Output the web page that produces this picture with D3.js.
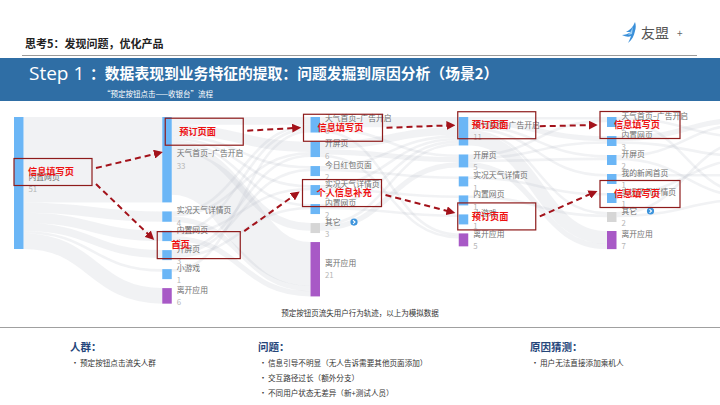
<!DOCTYPE html>
<html>
<head>
<meta charset="utf-8">
<script src="https://cdn.jsdelivr.net/npm/d3@7"></script>
<style>
  body { margin: 0; background: #fff; }
  svg { font-family: "Noto Sans CJK SC", "Noto Sans", sans-serif; }
</style>
</head>
<body>
<svg id="chart" width="720" height="405"></svg>
<script>
// ---- data (mock data) ----
const col1Pages = ["内置网页"];
const col1Users = [51];
const col2Pages = ["天气首页–广告开启", "实况天气详情页", "内置网页", "开屏页", "小游戏", "离开应用"];
const col2Users = [33, 4, 4, 3, 1, 6];
const col3Pages = ["天气首页–广告开启", "开屏页", "今日红包页面", "实况天气详情页", "内置网页", "其它", "离开应用"];
const col3Users = [6, 6, 2, 2, 2, 3, 21];
const col4Pages = ["天气首页–广告开启", "开屏页", "实况天气详情页", "内置网页", "小游戏", "离开应用"];
const col4Users = [11, 5, 1, 1, 1, 5];
const col5Pages = ["天气首页–广告开启", "内置网页", "开屏页", "我的新闻首页", "实况天气详情页", "其它", "离开应用"];
const col5Users = [2, 3, 2, 1, 1, 2, 7];
// next step, cut off at the right edge of the slide
const col6Pages = ["天气首页–广告开启", "内置网页", "开屏页", "小游戏", "离开应用"];
const col6Users = [3, 2, 2, 1, 3];

// flows between steps: [source node, target node, users]
const flows12 = [[0,0,33],[0,1,4],[0,2,4],[0,3,3],[0,4,1],[0,5,6]];
const flows23 = [[0,0,3],[0,1,4],[0,2,1],[0,3,1],[0,4,1],[0,5,3],[0,6,17],
                 [1,0,1],[1,1,1],[1,6,2],
                 [2,0,1],[2,3,1],[2,6,2],
                 [3,1,1],[3,2,1],[3,4,1],
                 [4,0,1]];
const flows34 = [[0,0,4],[0,1,1],[0,5,1],
                 [1,0,3],[1,1,2],[1,5,1],
                 [2,0,1],[2,2,1],
                 [3,0,1],[3,3,1],
                 [4,0,1],[4,4,1],
                 [5,0,1],[5,1,2]];
const flows45 = [[0,0,1],[0,1,2],[0,2,1],[0,3,1],[0,5,1],[0,6,5],
                 [1,0,1],[1,1,1],[1,2,1],[1,6,2],
                 [2,4,1],
                 [3,5,1]];
const flows56 = [[0,1,1],[0,4,1],[1,0,2],[1,2,1],[2,0,1],[2,4,1],
                 [3,3,1],[4,2,1],[5,1,1],[5,4,1]];

// red call-outs: [step, node, text]
const notes = [
  [0, 0, "信息填写页"],
  [1, 0, "预订页面"],
  [1, 3, "首页"],
  [2, 0, "信息填写页"],
  [2, 3, "个人信息补充"],
  [3, 0, "预订页面"],
  [3, 4, "预订页面"],
  [4, 0, "信息填写页"],
  [4, 4, "信息填写页"]
];
const noteArrows = [[0,1],[0,2],[1,3],[2,4],[3,5],[4,6],[5,7],[6,8]];

const caption = "预定按钮页流失用户行为轨迹，以上为模拟数据";
const bottomHeads = ["人群：", "问题：", "原因猜测："];
const bottomItems = [
  ["预定按钮点击流失人群"],
  ["信息引导不明显（无人告诉需要其他页面添加）", "交互路径过长（额外分支）", "不同用户状态无差异（新+测试人员）"],
  ["用户无法直接添加乘机人"]
];

// ---- layout ----
const svg = d3.select("#chart");
const blue = "#2f6ea5";

// header
svg.append("text").attr("x", 25).attr("y", 48)
  .attr("font-size", 11).attr("font-weight", 700).attr("fill", "#222")
  .text("思考5：发现问题，优化产品");
svg.append("line").attr("x1", 22).attr("x2", 697).attr("y1", 55.5).attr("y2", 55.5)
  .attr("stroke", "#9a9a9a").attr("stroke-width", 1);

// logo
const logo = svg.append("g").attr("transform", "translate(622,22)");
logo.append("path")
  .attr("d", "M13,0 C11,5 8,8 4,10 L9,10 C6,12 3,13 0,13 C4,15 7,15 9,14 C8,17 7,19 6,21 C10,18 12,14 13,9 C14,6 14,3 13,0 Z")
  .attr("fill", "#3a8fd9");
logo.append("path")
  .attr("d", "M11,4 C10,8 8,11 6,13 L10,12 Z")
  .attr("fill", "#9fd0f5");
logo.append("text").attr("x", 19).attr("y", 16)
  .attr("font-size", 14).attr("fill", "#555").text("友盟");
logo.append("text").attr("x", 55).attr("y", 15)
  .attr("font-size", 10).attr("fill", "#666").text("+");

// blue band
svg.append("rect").attr("x", 0).attr("y", 58).attr("width", 720).attr("height", 43).attr("fill", blue);
svg.append("text").attr("x", 29).attr("y", 80)
  .attr("font-family", "'Open Sans', sans-serif").attr("font-size", 19).attr("fill", "#fff")
  .text("Step 1");
svg.append("text").attr("x", 90).attr("y", 79)
  .attr("font-size", 14.8).attr("font-weight", 700).attr("fill", "#fff")
  .text("：数据表现到业务特征的提取：问题发掘到原因分析（场景2）");
svg.append("text").attr("x", 103).attr("y", 97)
  .attr("font-size", 7.5).attr("fill", "#fff")
  .text("“预定按钮点击——收银台”流程");

// ---- sankey-like behaviour flow ----
const columns = [
  [col1Pages, col1Users], [col2Pages, col2Users], [col3Pages, col3Users],
  [col4Pages, col4Users], [col5Pages, col5Users], [col6Pages, col6Users]
];
const flowSets = [flows12, flows23, flows34, flows45, flows56];

const x = d3.scaleLinear().domain([0, 4]).range([14, 607]);
const h = d3.scaleLinear().domain([0, 51]).range([0, 132]);
const barW = 9.5, minH = 10, pad = 9, topY = 117;

const nodes = columns.map(([pages, users], c) => {
  let y = topY;
  return pages.map((name, i) => {
    const hh = Math.max(h(users[i]), minH);
    const n = {c, i, name, value: users[i], x: x(c), y0: y, y1: y + hh, out: y, inn: y};
    y += hh + pad;
    return n;
  });
});

const links = [];
flowSets.forEach((set, c) => {
  set.forEach(([s, t, v]) => {
    const src = nodes[c][s], tgt = nodes[c + 1][t];
    const w = h(v);
    links.push({w, sx: src.x + barW, sy: src.out + w / 2, tx: tgt.x, ty: tgt.inn + w / 2});
    src.out += w; tgt.inn += w;
  });
});

const linkGen = d3.linkHorizontal().x(d => d[0]).y(d => d[1]);
svg.append("g").attr("fill", "none")
  .selectAll("path").data(links).join("path")
  .attr("d", d => linkGen({source: [d.sx, d.sy], target: [d.tx, d.ty]}))
  .attr("stroke", "#b9bdc6").attr("stroke-opacity", 0.2)
  .attr("stroke-width", d => Math.max(d.w, 1));

const colorOf = n => n.name === "离开应用" ? "#a859c6" : (n.name === "其它" ? "#d6d6d6" : "#6bb6f6");
const allNodes = nodes.slice(0, 5).flat();
const ng = svg.append("g");
ng.selectAll("rect").data(allNodes).join("rect")
  .attr("x", d => d.x).attr("y", d => d.y0)
  .attr("width", barW).attr("height", d => d.y1 - d.y0)
  .attr("fill", colorOf);

const lab = ng.selectAll("g.lab").data(allNodes).join("g").attr("class", "lab")
  .attr("transform", d => `translate(${d.x + barW + 5},${(d.y0 + d.y1) / 2})`);
lab.append("text").attr("y", -6).attr("dy", "0.35em")
  .attr("font-size", 7.8).attr("fill", "#6f6f6f").text(d => d.name);
lab.append("text").attr("y", 6.5).attr("dy", "0.35em")
  .attr("font-size", 7.8).attr("fill", "#b5b5b5").text(d => d.value);
// "more" icon next to 其它
const more = lab.filter(d => d.name === "其它").append("g").attr("transform", "translate(29,-6)");
more.append("circle").attr("r", 3.6).attr("fill", "#3d94dc");
more.append("path").attr("d", "M-1,-1.8 L1,0 L-1,1.8").attr("fill", "none")
  .attr("stroke", "#fff").attr("stroke-width", 1.1);

// ---- red call-outs ----
// per call-out box placement relative to its node: [dx, dy from node centre, width]
const noteBox = [[0, -11, 78], [3, -28, 78], [-5, -10, 83], [-7, 3, 79], [-8, 3, 79],
                 [-1, -6, 78], [-1, -3, 78], [-7, 3, 80], [-7, -4, 80]];
const boxes = notes.map(([c, i, text], k) => {
  const n = nodes[c][i], [dx, dy, w] = noteBox[k];
  const cy = (n.y0 + n.y1) / 2 + dy;
  return {text, x: n.x + dx, y: cy - 13.5, w, hgt: 27, cy};
});
const arrowOff = [[-4, 21], [12, -7], [-1, 0], [-14, 0], [0, 0], [2, -4], [1, 0], [0, -2]];

svg.append("defs").append("marker")
  .attr("id", "ah").attr("viewBox", "0 0 10 10").attr("refX", 7).attr("refY", 5)
  .attr("markerWidth", 4.5).attr("markerHeight", 4.5).attr("orient", "auto")
  .attr("markerUnits", "strokeWidth")
  .append("path").attr("d", "M0,0 L10,5 L0,10 Z").attr("fill", "#a3121a");

const ag = svg.append("g");
noteArrows.forEach(([a, b], k) => {
  const A = boxes[a], B = boxes[b], [sdy, edy] = arrowOff[k];
  const sx = A.x + A.w + 4, sy = A.cy + sdy;
  const ex = B.x - 5, ey = B.cy + edy;
  ag.append("line").attr("x1", sx).attr("y1", sy).attr("x2", ex).attr("y2", ey)
    .attr("stroke", "#a3121a").attr("stroke-width", 2).attr("stroke-dasharray", "6,4")
    .attr("marker-end", "url(#ah)");
});

const bg = svg.append("g").selectAll("g").data(boxes).join("g");
bg.append("rect").attr("x", d => d.x).attr("y", d => d.y)
  .attr("width", d => d.w).attr("height", d => d.hgt)
  .attr("fill", "none").attr("stroke", "#8e1b1b").attr("stroke-width", 1.2);
bg.append("text").attr("x", d => d.x + 14).attr("y", d => d.cy).attr("dy", "0.35em")
  .attr("font-size", 9.2).attr("font-weight", 700).attr("fill", "#ee1111")
  .text(d => d.text);

// caption
svg.append("text").attr("x", 360).attr("y", 313).attr("dy", "0.35em")
  .attr("text-anchor", "middle").attr("font-size", 7.5).attr("fill", "#333").text(caption);

svg.append("line").attr("x1", 0).attr("x2", 720).attr("y1", 327.5).attr("y2", 327.5)
  .attr("stroke", "#a0a0a0").attr("stroke-width", 1.2);

// bottom notes
const colX = [70, 258, 530];
bottomHeads.forEach((t, k) => {
  svg.append("text").attr("x", colX[k]).attr("y", 347).attr("dy", "0.35em")
    .attr("font-size", 10.5).attr("font-weight", 700).attr("fill", "#24457a").text(t);
  bottomItems[k].forEach((item, j) => {
    const y = 363 + j * 15;
    svg.append("text").attr("x", colX[k] + 1).attr("y", y).attr("dy", "0.35em")
      .attr("font-size", 8).attr("fill", "#333").text("·");
    svg.append("text").attr("x", colX[k] + 10).attr("y", y).attr("dy", "0.35em")
      .attr("font-size", 7.6).attr("fill", "#333").text(item);
  });
});
</script>
</body>
</html>
